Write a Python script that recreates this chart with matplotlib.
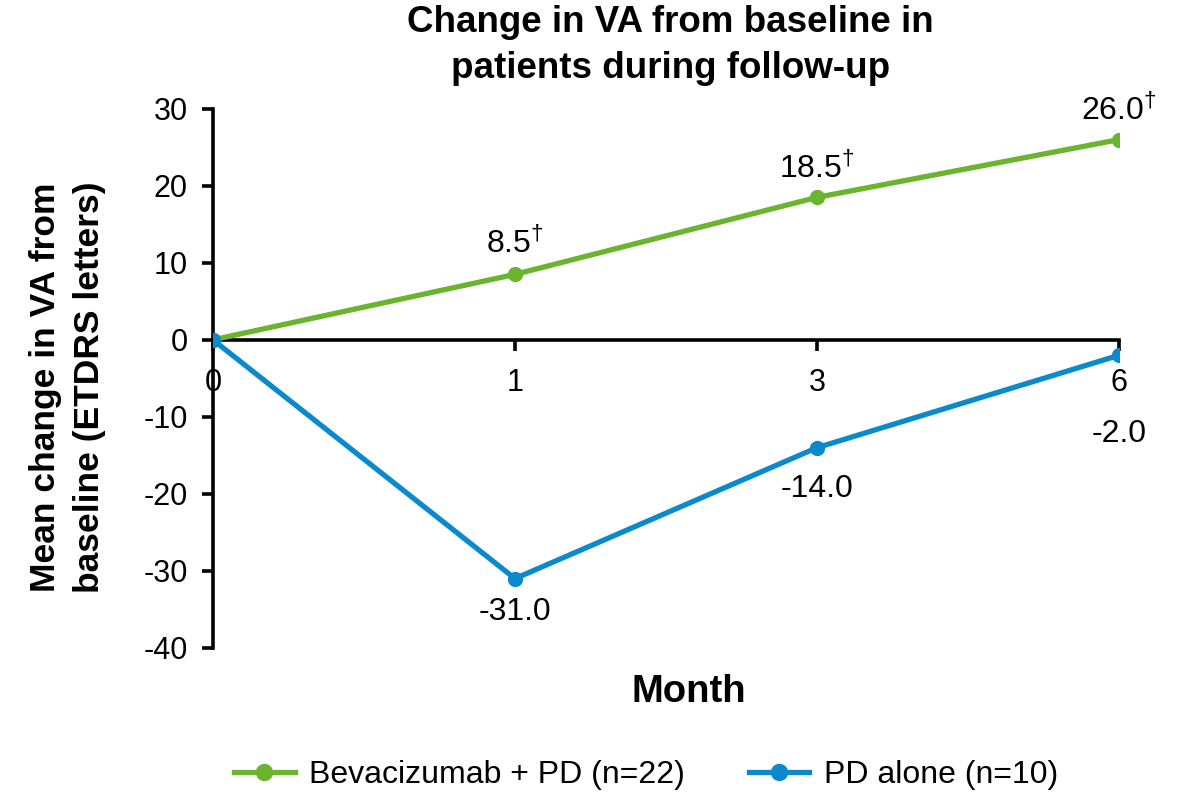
import matplotlib
matplotlib.use('Agg')
import matplotlib.pyplot as plt

plt.rcParams['font.family'] = ['Liberation Sans', 'DejaVu Sans']
plt.rcParams['axes.unicode_minus'] = False
plt.rcParams['mathtext.fontset'] = 'custom'
plt.rcParams['mathtext.rm'] = 'Liberation Sans'

months = ['0', '1', '3', '6']
beva_pd = [0.0, 8.5, 18.5, 26.0]
pd_alone = [0.0, -31.0, -14.0, -2.0]
beva_labels = [None, r'8.5$^{\dagger}$', r'18.5$^{\dagger}$', r'26.0$^{\dagger}$']
pd_labels = [None, '-31.0', '-14.0', '-2.0']
y_ticks = [30, 20, 10, 0, -10, -20, -30, -40]

green = '#6AB42E'
blue = '#0A8ACC'

fig = plt.figure(figsize=(11.83, 7.94), dpi=100)
ax = fig.add_axes([0.180, 0.184, 0.766, 0.679])

x = list(range(len(months)))
ax.plot(x, beva_pd, color=green, lw=3.8, marker='o', ms=10, label='Bevacizumab + PD (n=22)', zorder=3)
ax.plot(x, pd_alone, color=blue, lw=3.8, marker='o', ms=10, label='PD alone (n=10)', zorder=4)

# value labels, offsets in points
up_off = [0, 22, 21, 21]
down_off = [0, -24, -30, -57]
for i in x:
    if beva_labels[i]:
        ax.annotate(beva_labels[i], (i, beva_pd[i]), xytext=(0, up_off[i]), textcoords='offset points',
                    ha='center', va='center', fontsize=23)
    if pd_labels[i]:
        ax.annotate(pd_labels[i], (i, pd_alone[i]), xytext=(0, down_off[i]), textcoords='offset points',
                    ha='center', va='center', fontsize=23)

ax.set_xlim(0, 3)
ax.set_ylim(-40, 30)
ax.set_yticks(y_ticks)
ax.set_yticklabels([str(v) for v in y_ticks])
ax.set_xticks(x)
ax.set_xticklabels(months)

for s in ['top', 'right']:
    ax.spines[s].set_visible(False)
ax.spines['bottom'].set_position(('data', 0))
ax.spines['bottom'].set_linewidth(2.6)
ax.spines['left'].set_linewidth(2.6)
ax.tick_params(axis='y', direction='out', length=8, width=2.6, pad=10, labelsize=22)
ax.tick_params(axis='x', direction='out', length=8, width=2.6, pad=12, labelsize=22)

fig.text(0.567, 0.943, 'Change in VA from baseline in\npatients during follow-up',
         ha='center', va='center', fontsize=26.5, fontweight='bold', linespacing=1.4)
fig.text(0.582, 0.128, 'Month', ha='center', va='center', fontsize=27.5, fontweight='bold')
fig.text(0.057, 0.512, 'Mean change in VA from\nbaseline (ETDRS letters)', ha='center', va='center',
         rotation=90, fontsize=25.5, fontweight='bold', linespacing=1.45)

fig.legend(loc='center', bbox_to_anchor=(0.546, 0.024), ncol=2, frameon=False, fontsize=23,
           handlelength=1.9, columnspacing=2.0, handletextpad=0.45, markerscale=1.15)

fig.savefig('out.png', dpi=100)
